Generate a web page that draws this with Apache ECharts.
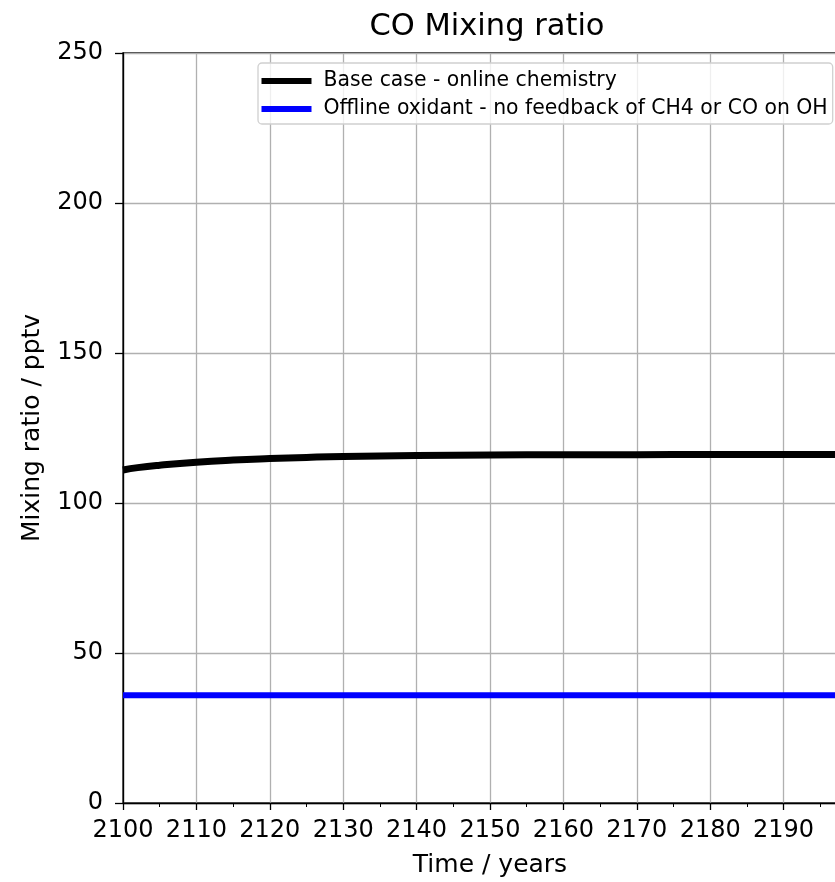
<!DOCTYPE html>
<html>
<head>
<meta charset="utf-8">
<script src="https://cdn.jsdelivr.net/npm/echarts@6/dist/echarts.min.js"></script>
<style>
  html, body { margin: 0; padding: 0; background: #fff; }
  #chart { width: 835px; height: 882px; }
</style>
</head>
<body>
<div id="chart"></div>
<script>
// CO mixing ratio
const years = [2100, 2102, 2105, 2110, 2115, 2120, 2125, 2130, 2140, 2150, 2160, 2170, 2180, 2190, 2200]
const baseCase = [111.0, 111.8, 112.6, 113.6, 114.3, 114.8, 115.2, 115.5, 115.8, 116.0, 116.1, 116.1, 116.2, 116.2, 116.2]
const offlineOxidant = [35.9, 35.9, 35.9, 35.9, 35.9, 35.9, 35.9, 35.9, 35.9, 35.9, 35.9, 35.9, 35.9, 35.9, 35.9]
const seriesNames = ['Base case - online chemistry', 'Offline oxidant - no feedback of CH4 or CO on OH']

const chart = echarts.init(document.getElementById('chart'))
const font = 'DejaVu Sans'

const option = {
  animation: false,
  backgroundColor: '#fff',
  textStyle: { fontFamily: font },
  title: {
    text: 'CO Mixing ratio',
    left: 482,
    textAlign: 'center',
    top: 7,
    textStyle: { fontFamily: font, fontSize: 30.5, fontWeight: 'normal', color: '#000' }
  },
  grid: {
    left: 123,
    right: -22,
    top: 53,
    bottom: 79,
    outerBoundsMode: 'none',
    containLabel: false,
    show: true,
    borderColor: '#000',
    borderWidth: 1.3,
    backgroundColor: 'transparent'
  },
  legend: {
    orient: 'vertical',
    left: 258,
    top: 63,
    itemWidth: 50,
    itemHeight: 6,
    itemGap: 8,
    padding: [8, 5, 5, 3.5],
    backgroundColor: 'rgba(255,255,255,0.8)',
    borderColor: '#d0d0d0',
    borderWidth: 1.3,
    borderRadius: 4,
    textStyle: { fontFamily: font, fontSize: 20.4, color: '#000', padding: [0, 0, 0, 7] },
    data: [
      { name: seriesNames[0], icon: 'rect' },
      { name: seriesNames[1], icon: 'rect' }
    ]
  },
  xAxis: {
    type: 'value',
    min: 2100,
    max: 2200,
    interval: 10,
    name: 'Time / years',
    nameLocation: 'middle',
    nameGap: 50,
    nameTextStyle: { fontFamily: font, fontSize: 25, color: '#000' },
    axisLine: { show: true, lineStyle: { color: '#000', width: 1.3 } },
    axisTick: { show: true, length: 7, lineStyle: { color: '#000', width: 1.3 } },
    minorTick: { show: true, splitNumber: 2, length: 4, lineStyle: { color: '#000', width: 1 } },
    axisLabel: {
      fontFamily: font, fontSize: 24, color: '#000', margin: 16,
      showMaxLabel: false,
      formatter: (v) => String(v)
    },
    splitLine: { show: true, lineStyle: { color: '#b0b0b0', width: 1.3 } }
  },
  yAxis: {
    type: 'value',
    min: 0,
    max: 250,
    interval: 50,
    name: 'Mixing ratio / pptv',
    nameLocation: 'middle',
    nameGap: 78,
    nameTextStyle: { fontFamily: font, fontSize: 25, color: '#000' },
    axisLine: { show: true, lineStyle: { color: '#000', width: 1.3 } },
    axisTick: { show: true, length: 8, lineStyle: { color: '#000', width: 1.3 } },
    axisLabel: { fontFamily: font, fontSize: 24, color: '#000', margin: 20 },
    splitLine: { show: true, lineStyle: { color: '#b0b0b0', width: 1.3 } }
  },
  series: [
    {
      name: seriesNames[0],
      type: 'line',
      smooth: true,
      showSymbol: false,
      color: '#000',
      lineStyle: { color: '#000', width: 7 },
      data: years.map((y, i) => [y, baseCase[i]])
    },
    {
      name: seriesNames[1],
      type: 'line',
      showSymbol: false,
      color: '#0000ff',
      lineStyle: { color: '#0000ff', width: 6 },
      data: years.map((y, i) => [y, offlineOxidant[i]])
    }
  ]
}
chart.setOption(option)
</script>
</body>
</html>
